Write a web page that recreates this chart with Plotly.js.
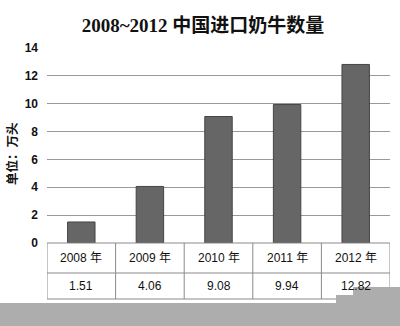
<!DOCTYPE html>
<html><head><meta charset="utf-8">
<script src="https://cdn.plot.ly/plotly-3.0.1.min.js"></script>
<style>html,body{margin:0;padding:0;background:#fff}#chart{width:400px;height:326px}</style>
</head><body><div id="chart"></div>
<script>
const categories = ["2008 年","2009 年","2010 年","2011 年","2012 年"];
const values = [1.51, 4.06, 9.08, 9.94, 12.82];
const valueLabels = ["1.51","4.06","9.08","9.94","12.82"];
const yTicks = [0,2,4,6,8,10,12,14];

const W=400,H=326,L=47,R=10,T=48,B=83;
const ph = H-T-B;
const py = px => -(px-(H-B))/ph; // pixel y -> paper y
const pxX = px => (px-L)/(W-L-R);

const shapes = [];
const annotations = [];
const tblTop = 243, tblMid = 273, tblBot = 299;
[tblTop, tblMid, tblBot].forEach(y=>{
  shapes.push({type:'line', xref:'paper', yref:'paper', x0:0, x1:1, y0:py(y), y1:py(y), line:{color:'#8a8a8a', width:1}});
});
for (let i=0;i<=categories.length;i++){
  shapes.push({type:'line', xref:'x', yref:'paper', x0:i-0.5, x1:i-0.5, y0:py(tblTop), y1:py(tblBot), line:{color:'#8a8a8a', width:1}});
}
categories.forEach((c,i)=>{
  annotations.push({xref:'x', yref:'paper', x:i, y:py((tblTop+tblMid)/2), text:c, showarrow:false, font:{family:'Liberation Sans, Noto Sans CJK SC', size:12, color:'#111'}, yanchor:'middle'});
  annotations.push({xref:'x', yref:'paper', x:i, y:py((tblMid+tblBot)/2), text:valueLabels[i], showarrow:false, font:{family:'Liberation Sans', size:12, color:'#111'}, yanchor:'middle'});
});
annotations.push({xref:'paper', yref:'paper', x:pxX(11), y:py(154), text:'<b>单位：万头</b>', textangle:-90, showarrow:false,
  font:{family:'Noto Sans CJK SC', size:12.5, color:'#111'}, xanchor:'center', yanchor:'middle'});
const gray = '#adadad';
shapes.push({type:'rect', xref:'paper', yref:'paper', x0:pxX(0), x1:pxX(400), y0:py(326), y1:py(303), fillcolor:gray, line:{width:0}, layer:'above'});
shapes.push({type:'rect', xref:'paper', yref:'paper', x0:pxX(336), x1:pxX(400), y0:py(326), y1:py(295), fillcolor:gray, line:{width:0}, layer:'above'});
shapes.push({type:'rect', xref:'paper', yref:'paper', x0:pxX(353), x1:pxX(400), y0:py(326), y1:py(287), fillcolor:gray, line:{width:0}, layer:'above'});

const data = [{
  type:'bar', x:categories, y:values,
  marker:{color:'#666666', line:{color:'#444', width:1}},
  width:0.4, hoverinfo:'skip'
}];
const layout = {
  width:W, height:H,
  margin:{l:L, r:R, t:T, b:B, pad:0},
  paper_bgcolor:'#fff', plot_bgcolor:'#fff',
  title:{text:'<b>2008~2012 中国进口奶牛数量</b>', x:203/W, xref:'container', xanchor:'center', y:1-25/H, yanchor:'middle',
    font:{family:'Liberation Serif, Noto Sans CJK SC', size:19, color:'#111'}},
  xaxis:{showticklabels:false, showgrid:false, zeroline:false, showline:false, ticks:'', range:[-0.5,4.5], fixedrange:true},
  yaxis:{range:[0,14], tickvals:yTicks, ticktext:yTicks.map(String), showgrid:true, gridcolor:'#999', gridwidth:1,
    zeroline:false, showline:false, ticks:'', ticklabelstandoff:8,
    tickfont:{family:'Liberation Sans', size:12, color:'#111', weight:'bold'}},
  shapes, annotations, showlegend:false
};
Plotly.newPlot('chart', data, layout, {displayModeBar:false, staticPlot:true});
</script></body></html>
